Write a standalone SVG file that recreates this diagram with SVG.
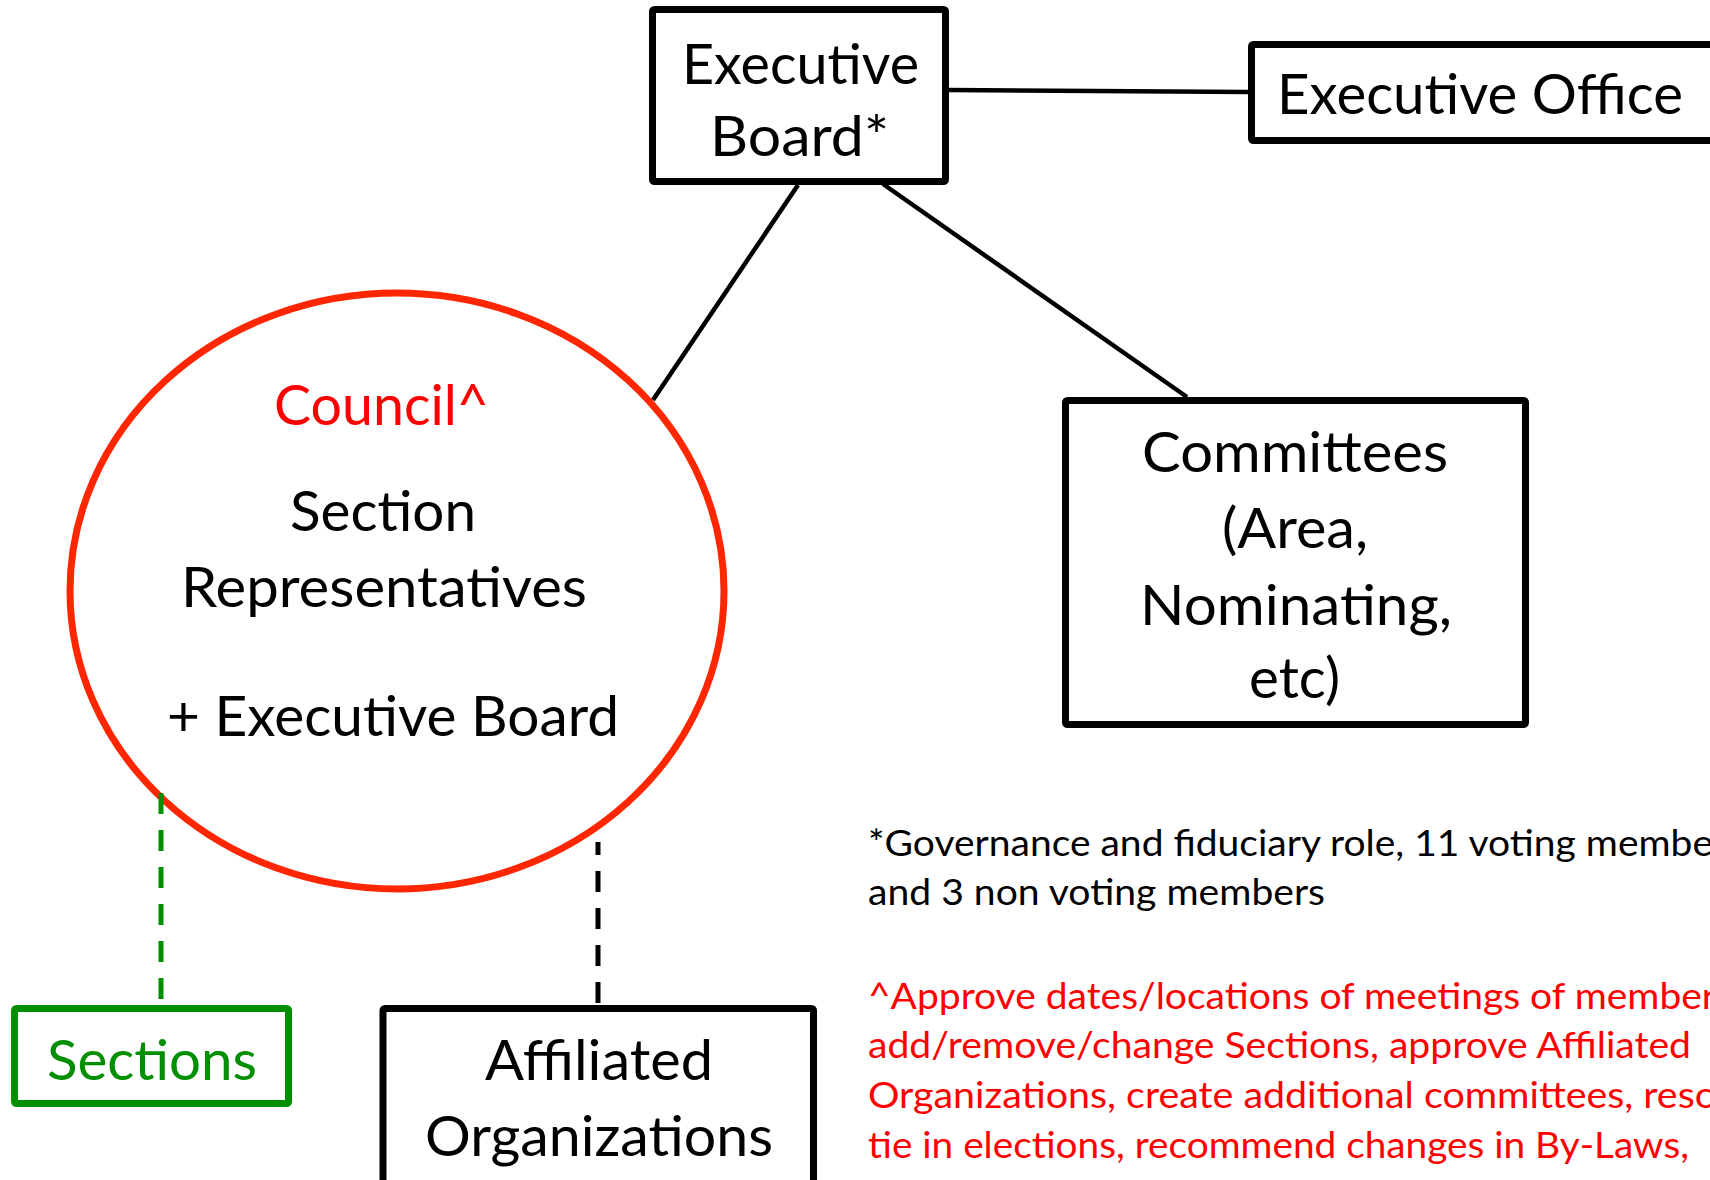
<svg xmlns="http://www.w3.org/2000/svg" width="1710" height="1180" viewBox="0 0 1710 1180">
<style>
.box{fill:#ffffff;stroke:#000000;stroke-width:7;stroke-linejoin:round}
.big{font-family:Lato,"Open Sans","Liberation Sans",sans-serif;font-size:57px;fill:#000000}
.note{font-family:Lato,"Open Sans","Liberation Sans",sans-serif;font-size:36px}
.conn{stroke:#000000;stroke-width:4.5;fill:none}
.red{fill:#ff0000}
.green{fill:#008f00}
</style>
<rect width="1710" height="1180" fill="#ffffff"/>
<g id="executive-board">
<rect class="box" x="652.5" y="9.5" width="293" height="172" rx="2"/>
<text class="big" x="682" y="84" textLength="237" lengthAdjust="spacingAndGlyphs">Executive</text>
<text class="big" x="710" y="156" textLength="179" lengthAdjust="spacingAndGlyphs">Board*</text>
</g>
<g id="executive-office">
<rect class="box" x="1251.5" y="44.5" width="480" height="96" rx="2"/>
<text class="big" x="1277" y="114" textLength="406" lengthAdjust="spacingAndGlyphs">Executive Office</text>
</g>
<g id="committees">
<rect class="box" x="1065.5" y="400.5" width="460" height="324" rx="2"/>
<text class="big" x="1142" y="472" textLength="306" lengthAdjust="spacingAndGlyphs">Committees</text>
<text class="big" x="1222" y="548" textLength="146" lengthAdjust="spacingAndGlyphs">(Area,</text>
<text class="big" x="1140" y="625" textLength="312" lengthAdjust="spacingAndGlyphs">Nominating,</text>
<text class="big" x="1249" y="698" textLength="91" lengthAdjust="spacingAndGlyphs">etc)</text>
</g>
<g id="council">
<ellipse cx="397" cy="591" rx="327" ry="298" fill="none" stroke="#ff2600" stroke-width="7"/>
<text class="big red" x="274" y="425" textLength="215" lengthAdjust="spacingAndGlyphs">Council^</text>
<text class="big" x="290" y="531" textLength="186" lengthAdjust="spacingAndGlyphs">Section</text>
<text class="big" x="181" y="607" textLength="406" lengthAdjust="spacingAndGlyphs">Representatives</text>
<text class="big" x="167" y="736" textLength="452" lengthAdjust="spacingAndGlyphs">+ Executive Board</text>
</g>
<g id="sections">
<rect x="14.5" y="1008.5" width="274" height="95" rx="2" fill="#ffffff" stroke="#008f00" stroke-width="7"/>
<text class="big green" x="47" y="1080" textLength="210" lengthAdjust="spacingAndGlyphs">Sections</text>
</g>
<g id="affiliated-organizations">
<rect class="box" x="383" y="1008.5" width="430.5" height="220" rx="2"/>
<text class="big" x="485" y="1080" textLength="228" lengthAdjust="spacingAndGlyphs">Affiliated</text>
<text class="big" x="425" y="1156" textLength="348" lengthAdjust="spacingAndGlyphs">Organizations</text>
</g>
<g id="connectors">
<line class="conn" x1="948" y1="90" x2="1248" y2="92"/>
<line class="conn" x1="798" y1="185" x2="653" y2="400"/>
<line class="conn" x1="883" y1="184" x2="1187" y2="397"/>
<line x1="161" y1="793" x2="161" y2="1004" stroke="#008f00" stroke-width="5" stroke-dasharray="21 16"/>
<line x1="598" y1="1003" x2="598" y2="842" stroke="#000000" stroke-width="5" stroke-dasharray="21 16"/>
</g>
<g id="notes">
<text class="note" x="868" y="856" fill="#000000" textLength="845" lengthAdjust="spacingAndGlyphs">*Governance and fiduciary role, 11 voting membe</text>
<text class="note" x="868" y="905" fill="#000000" textLength="457" lengthAdjust="spacingAndGlyphs">and 3 non voting members</text>
<text class="note red" x="868" y="1009" textLength="848" lengthAdjust="spacingAndGlyphs">^Approve dates/locations of meetings of member</text>
<text class="note red" x="868" y="1058" textLength="823" lengthAdjust="spacingAndGlyphs">add/remove/change Sections, approve Affiliated</text>
<text class="note red" x="868" y="1108" textLength="849" lengthAdjust="spacingAndGlyphs">Organizations, create additional committees, reso</text>
<text class="note red" x="868" y="1158" textLength="821" lengthAdjust="spacingAndGlyphs">tie in elections, recommend changes in By-Laws,</text>
</g>
</svg>
